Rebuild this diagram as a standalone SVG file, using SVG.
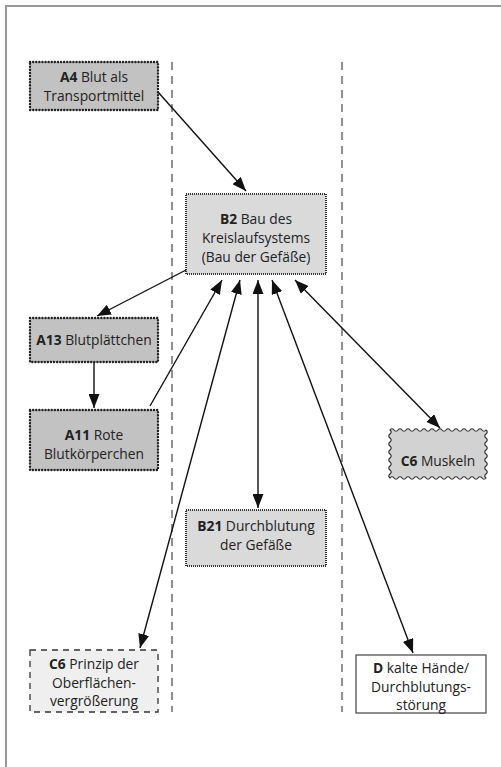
<svg xmlns="http://www.w3.org/2000/svg" width="501" height="767" viewBox="0 0 501 767">
<defs>
<marker id="ah" markerUnits="userSpaceOnUse" markerWidth="15" markerHeight="11" refX="14" refY="5.5" orient="auto-start-reverse">
<path d="M0,0 L14,5.5 L0,11 z" fill="#111"/>
</marker>
<style>
text{font-family:"Open Sans","Noto Sans","Liberation Sans",sans-serif;font-size:13.8px;fill:#222;text-anchor:middle}
.b{font-weight:bold}
.a{fill:#c2c2c2;stroke:#222;stroke-width:2.4;stroke-dasharray:0.1 3;stroke-linecap:round}
.bx{fill:#dadada;stroke:#333;stroke-width:2;stroke-dasharray:1 1}
.sep{stroke:#222;stroke-width:1;stroke-dasharray:8 6;fill:none}
.c{stroke:#111;stroke-width:1.4;fill:none}
</style>
</defs>
<g id="frame"><path d="M6,767 V6 H501" fill="none" stroke="#999" stroke-width="2"/></g>
<g id="separators">
<line class="sep" x1="172" y1="62" x2="172" y2="712"/>
<line class="sep" x1="342" y1="62" x2="342" y2="712"/>
</g>
<g id="A4"><rect class="a" x="30" y="62" width="128" height="48"/>
<text x="94" y="82"><tspan class="b">A4</tspan> Blut als</text><text x="94" y="101">Transportmittel</text></g>
<g id="B2"><rect class="bx" x="186" y="194" width="140" height="80"/>
<text x="256" y="224"><tspan class="b">B2</tspan> Bau des</text><text x="256" y="243">Kreislaufsystems</text><text x="256" y="262">(Bau der Gefäße)</text></g>
<g id="A13"><rect class="a" x="30" y="318" width="128" height="44"/>
<text x="94" y="345"><tspan class="b">A13</tspan> Blutplättchen</text></g>
<g id="A11"><rect class="a" x="30" y="410" width="128" height="60"/>
<text x="94" y="440"><tspan class="b">A11</tspan> Rote</text><text x="94" y="459">Blutkörperchen</text></g>
<g id="C6M"><path fill="#d2d2d2" stroke="#333" stroke-width="1.2" d="M390,430 q2,-2.5 4,0 t4,0 t4,0 t4,0 t4,0 t4,0 t4,0 t4,0 t4,0 t4,0 t4,0 t4,0 t4,0 t4,0 t4,0 t4,0 t4,0 t4,0 t4,0 t4,0 t4,0 t4,0 t4,0 t4,0 q2.5,2 0,4 t0,4 t0,4 t0,4 t0,4 t0,4 t0,4 t0,4 t0,4 t0,4 t0,4 t0,4 q-2,2.5 -4,0 t-4,0 t-4,0 t-4,0 t-4,0 t-4,0 t-4,0 t-4,0 t-4,0 t-4,0 t-4,0 t-4,0 t-4,0 t-4,0 t-4,0 t-4,0 t-4,0 t-4,0 t-4,0 t-4,0 t-4,0 t-4,0 t-4,0 t-4,0 q-2.5,-2 0,-4 t0,-4 t0,-4 t0,-4 t0,-4 t0,-4 t0,-4 t0,-4 t0,-4 t0,-4 t0,-4 t0,-4 z"/>
<text x="438" y="466"><tspan class="b">C6</tspan> Muskeln</text></g>
<g id="B21"><rect class="bx" x="186" y="510" width="140" height="56"/>
<text x="256" y="531"><tspan class="b">B21</tspan> Durchblutung</text><text x="256" y="550">der Gefäße</text></g>
<g id="C6P"><rect x="30" y="650" width="128" height="62" fill="#efefef" stroke="#333" stroke-width="1.3" stroke-dasharray="6 5"/>
<text x="94" y="669"><tspan class="b">C6</tspan> Prinzip der</text><text x="94" y="688">Oberflächen-</text><text x="94" y="706">vergrößerung</text></g>
<g id="D"><rect x="356" y="655" width="130" height="58" fill="#fff" stroke="#444" stroke-width="1.2"/>
<text x="421" y="673"><tspan class="b">D</tspan> kalte Hände/</text><text x="421" y="692">Durchblutungs-</text><text x="421" y="710">störung</text></g>
<g id="connectors">
<line class="c" x1="158" y1="92" x2="246" y2="191" marker-end="url(#ah)"/>
<line class="c" x1="186" y1="270" x2="97" y2="316" marker-end="url(#ah)"/>
<line class="c" x1="94" y1="362" x2="94" y2="408" marker-end="url(#ah)"/>
<line class="c" x1="150" y1="406" x2="222" y2="280" marker-end="url(#ah)"/>
<line class="c" x1="140" y1="648" x2="240" y2="280" marker-start="url(#ah)" marker-end="url(#ah)"/>
<line class="c" x1="258" y1="508" x2="258" y2="280" marker-start="url(#ah)" marker-end="url(#ah)"/>
<line class="c" x1="413" y1="653" x2="272" y2="280" marker-start="url(#ah)" marker-end="url(#ah)"/>
<line class="c" x1="440" y1="428" x2="295" y2="280" marker-start="url(#ah)" marker-end="url(#ah)"/>
</g>
</svg>
